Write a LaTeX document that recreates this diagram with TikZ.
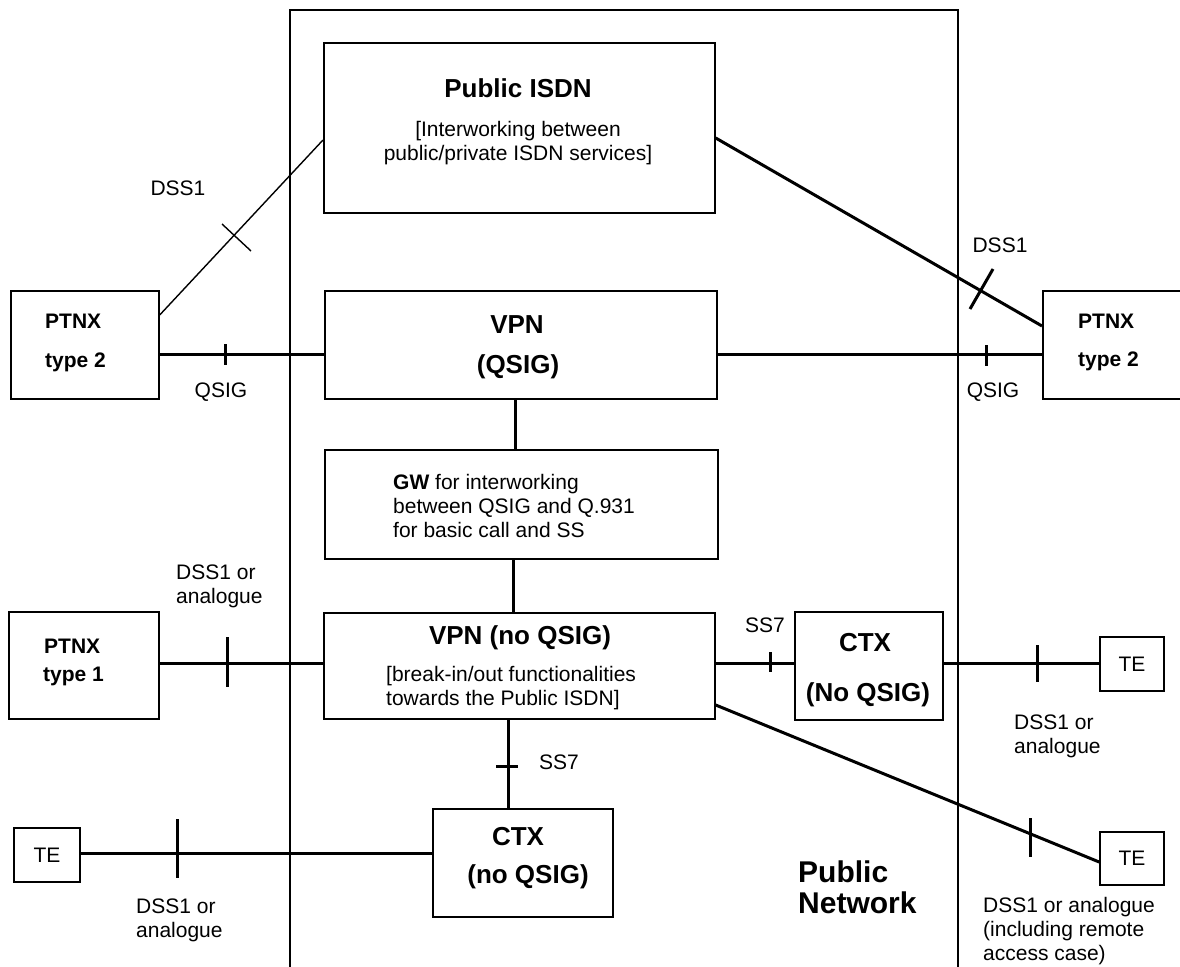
\documentclass[tikz,border=0pt]{standalone}
\usepackage{fontspec}
\setmainfont{Liberation Sans}
\usetikzlibrary{calc}
\begin{document}
\begin{tikzpicture}[x=1pt,y=-1pt,
  box/.style={draw, line width=1.7pt, inner sep=0pt, anchor=north west},
  thinline/.style={line width=1.4pt},
  link/.style={line width=3pt},
  tick/.style={line width=3pt},
  lbl/.style={inner sep=0pt, font=\fontsize{21}{24}\selectfont},
  bl/.style={inner sep=0pt, font=\bfseries\fontsize{21}{24}\selectfont},
  big/.style={inner sep=0pt, font=\bfseries\fontsize{26}{31}\selectfont},
  huge/.style={inner sep=0pt, font=\bfseries\fontsize{30}{31}\selectfont}]
\useasboundingbox (0,0) rectangle (1180,966);
\clip (0,0) rectangle (1180,966);

% public network boundary (open at the bottom)
\draw[thinline] (290,975) -- (290,10) -- (958,10) -- (958,975);

% boxes
\node[box, minimum width=391pt, minimum height=170pt] (isdn) at (323,42) {};
\node[box, minimum width=392pt, minimum height=108pt] (vpnq) at (324,290) {};
\node[box, minimum width=393pt, minimum height=109pt] (gw) at (324,449) {};
\node[box, minimum width=391pt, minimum height=106pt] (vpnn) at (323,612) {};
\node[box, minimum width=148pt, minimum height=108pt] (ptnxa) at (10,290) {};
\node[box, minimum width=158pt, minimum height=108pt] (ptnxb) at (1042,290) {};
\node[box, minimum width=150pt, minimum height=107pt] (ptnxc) at (8,611) {};
\node[box, minimum width=148pt, minimum height=108pt] (ctxa) at (794,611) {};
\node[box, minimum width=180pt, minimum height=108pt] (ctxb) at (432,808) {};
\node[box, lbl, minimum width=64pt, minimum height=54pt, anchor=center] (tea) at (1132,664) {TE};
\node[box, lbl, minimum width=64pt, minimum height=53pt, anchor=center] (teb) at (1132,858.5) {TE};
\node[box, lbl, minimum width=66pt, minimum height=54pt, anchor=center] (tec) at (47,855) {TE};

% box texts
\node[big] (isdnt) at (518,88) {Public ISDN};
\node[lbl, align=center] (isdns) at (518,143) {[Interworking between\\public/private ISDN services]};
\node[big] (vpnqa) at (517,325) {VPN};
\node[big] (vpnqb) at (518,367) {(QSIG)};
\node[lbl, align=left, anchor=west] (gwt) at (393,506) {\textbf{GW} for interworking\\between QSIG and Q.931\\for basic call and SS};
\node[big] (vpnnt) at (520,638) {VPN (no QSIG)};
\node[lbl, align=left, anchor=west] (vpnns) at (386,688) {[break-in/out functionalities\\towards the Public ISDN]};
\node[bl, anchor=west] (ptnxa1) at (45,321) {PTNX};
\node[bl, anchor=west] (ptnxa2) at (45,362) {type 2};
\node[bl, anchor=west] (ptnxb1) at (1078,321) {PTNX};
\node[bl, anchor=west] (ptnxb2) at (1078,361) {type 2};
\node[bl, anchor=west] (ptnxc1) at (44,646) {PTNX};
\node[bl, anchor=west] (ptnxc2) at (43,676) {type 1};
\node[big] (ctxa1) at (865,643) {CTX};
\node[big] (ctxa2) at (868,695) {(No QSIG)};
\node[big] (ctxb1) at (518,837) {CTX};
\node[big] (ctxb2) at (528,877) {(no QSIG)};
\node[huge, align=left, anchor=west] (pubnet) at (798,887) {Public\\Network};

% connectors
\draw[thinline] (ptnxa.east |- 0,315) -- (isdn.west |- 0,140);
\draw[link] (isdn.east |- 0,138) -- (ptnxb.west |- 0,326);
\draw[link] (ptnxa.east |- 0,354) -- (vpnq.west |- 0,354);
\draw[link] (vpnq.east |- 0,354) -- (ptnxb.west |- 0,354);
\draw[link] (vpnq.south -| 515,0) -- (gw.north -| 515,0);
\draw[link] (gw.south -| 513,0) -- (vpnn.north -| 513,0);
\draw[link] (ptnxc.east |- 0,663) -- (vpnn.west |- 0,663);
\draw[link] (vpnn.east |- 0,663) -- (ctxa.west |- 0,663);
\draw[link] (ctxa.east |- 0,663) -- (tea.west |- 0,663);
\draw[link] (vpnn.east |- 0,705) -- (teb.west |- 0,862);
\draw[link] (vpnn.south -| 508,0) -- (ctxb.north -| 508,0);
\draw[link] (tec.east |- 0,853) -- (ctxb.west |- 0,853);

% interface ticks
\draw[thinline] (222,224) -- (251,251);
\draw[tick] (993,269) -- (970,309);
\draw[tick] (225,344) -- (225,365);
\draw[tick] (986,345) -- (986,366);
\draw[tick] (227,637) -- (227,687);
\draw[tick] (770,652) -- (770,672);
\draw[tick] (1037,645) -- (1037,682);
\draw[tick] (1030,818) -- (1030,857);
\draw[tick] (496,766) -- (518,766);
\draw[tick] (177,819) -- (177,878);

% interface labels
\node[lbl] (l1) at (178,188) {DSS1};
\node[lbl] (l2) at (1000,245) {DSS1};
\node[lbl] (l3) at (221,392) {QSIG};
\node[lbl] (l4) at (993,392) {QSIG};
\node[lbl, align=left, anchor=west] (l5) at (176,586) {DSS1 or\\analogue};
\node[lbl] (l6) at (765,625) {SS7};
\node[lbl] (l7) at (559,762) {SS7};
\node[lbl, align=left, anchor=west] (l8) at (1014,736) {DSS1 or\\analogue};
\node[lbl, align=left, anchor=west] (l9) at (136,920) {DSS1 or\\analogue};
\node[lbl, align=left, anchor=west] (l10) at (983,931) {DSS1 or analogue\\(including remote\\access case)};
\end{tikzpicture}
\end{document}
